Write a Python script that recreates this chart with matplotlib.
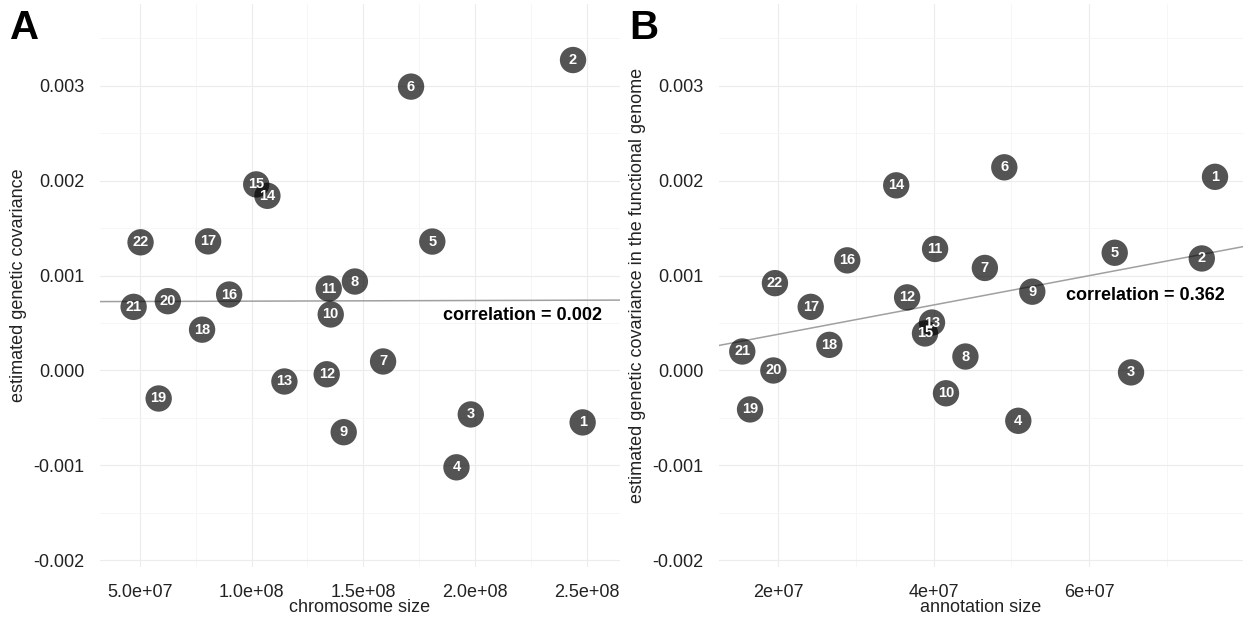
import numpy as np
import matplotlib.pyplot as plt

chrom = [str(i) for i in range(1, 23)]

# panel A: chromosome size vs estimated genetic covariance
chrom_size = [2.48e8, 2.437e8, 1.98e8, 1.916e8, 1.808e8, 1.713e8, 1.588e8, 1.462e8,
              1.412e8, 1.354e8, 1.345e8, 1.336e8, 1.147e8, 1.071e8, 1.021e8, 9.0e7,
              8.06e7, 7.79e7, 5.85e7, 6.26e7, 4.73e7, 5.04e7]
cov_a = [-0.000547, 0.00327, -0.000463, -0.00102, 0.001358, 0.00299, 0.000095, 0.000937,
         -0.00065, 0.00059, 0.000863, -0.00004, -0.000116, 0.00184, 0.00196, 0.0008,
         0.00136, 0.00043, -0.000295, 0.00073, 0.00067, 0.00135]

# panel B: annotation size vs covariance in the functional genome
annot_size = [7.62e7, 7.45e7, 6.54e7, 5.09e7, 6.33e7, 4.91e7, 4.66e7, 4.41e7,
              5.27e7, 4.16e7, 4.02e7, 3.66e7, 3.98e7, 3.52e7, 3.89e7, 2.89e7,
              2.42e7, 2.66e7, 1.64e7, 1.94e7, 1.54e7, 1.96e7]
cov_b = [0.00204, 0.00118, -0.00002, -0.00053, 0.00124, 0.00214, 0.00108, 0.000147,
         0.00083, -0.00024, 0.00128, 0.00077, 0.000505, 0.00195, 0.00039, 0.00116,
         0.00067, 0.00027, -0.00041, 0.0, 0.0002, 0.00092]

corr_a = "correlation = 0.002"
corr_b = "correlation = 0.362"

narrow = ['Liberation Sans Narrow', 'Liberation Sans', 'DejaVu Sans']
plt.rcParams['font.family'] = ['Liberation Sans', 'DejaVu Sans']

fig = plt.figure(figsize=(12.43, 6.19), dpi=100)
axA = fig.add_axes([0.0805, 0.084, 0.4183, 0.9095])
axB = fig.add_axes([0.5784, 0.084, 0.4216, 0.9095])


def panel(ax, x, y, xlim, xmaj, xmin, xfmt, xlabel, ylabel, corr, corr_xy):
    x = np.array(x)
    y = np.array(y)
    ax.set_xlim(*xlim)
    ax.set_ylim(-0.00207, 0.00386)
    ax.set_xticks(xmaj)
    ax.set_xticklabels([xfmt(v) for v in xmaj])
    ax.set_xticks(xmin, minor=True)
    yt = [-0.002, -0.001, 0.0, 0.001, 0.002, 0.003]
    ax.set_yticks(yt)
    ax.set_yticklabels([f'{v:.3f}' for v in yt])
    ax.set_yticks([-0.0015, -0.0005, 0.0005, 0.0015, 0.0025, 0.0035], minor=True)
    ax.grid(True, which='major', color='#ececec', lw=0.8)
    ax.grid(True, which='minor', color='#f5f5f5', lw=0.6)
    ax.set_axisbelow(True)
    for s in ax.spines.values():
        s.set_visible(False)
    ax.tick_params(which='both', length=0, labelsize=13, colors='#222222')
    ax.tick_params(axis='x', pad=12)
    ax.tick_params(axis='y', pad=11)

    # linear fit drawn across the full panel
    k, b = np.polyfit(x, y, 1)
    xx = np.array(xlim)
    ax.plot(xx, k * xx + b, color='#a0a0a0', lw=1.1, zorder=1)

    ax.scatter(x, y, s=360, color='black', alpha=0.67, edgecolors='none', zorder=2)
    for lab, xi, yi in zip(chrom, x, y):
        ax.text(xi, yi, lab, color='white', ha='center', va='center',
                fontsize=10.5, fontweight='bold', family=narrow, zorder=3)
    ax.text(corr_xy[0], corr_xy[1], corr, ha='center', va='center',
            fontsize=13, fontweight='bold', family=narrow, color='black')
    ax.set_xlabel(xlabel, fontsize=13, labelpad=-1, color='#222222')
    ax.set_ylabel(ylabel, fontsize=13, labelpad=5, color='#222222')


panel(axA, chrom_size, cov_a, (3.23e7, 2.647e8),
      [5e7, 1e8, 1.5e8, 2e8, 2.5e8], [7.5e7, 1.25e8, 1.75e8, 2.25e8],
      lambda v: f'{v:.1e}',
      'chromosome size', 'estimated genetic covariance', corr_a, (2.21e8, 0.00058))

panel(axB, annot_size, cov_b, (1.24e7, 7.98e7),
      [2e7, 4e7, 6e7], [3e7, 5e7, 7e7],
      lambda v: f'{v:.0e}',
      'annotation size', 'estimated genetic covariance in the functional genome',
      corr_b, (6.73e7, 0.00079))

fig.text(0.008, 0.955, 'A', fontsize=29, fontweight='bold', va='center', ha='left')
fig.text(0.506, 0.955, 'B', fontsize=29, fontweight='bold', va='center', ha='left')

fig.savefig('out.png', dpi=100)
